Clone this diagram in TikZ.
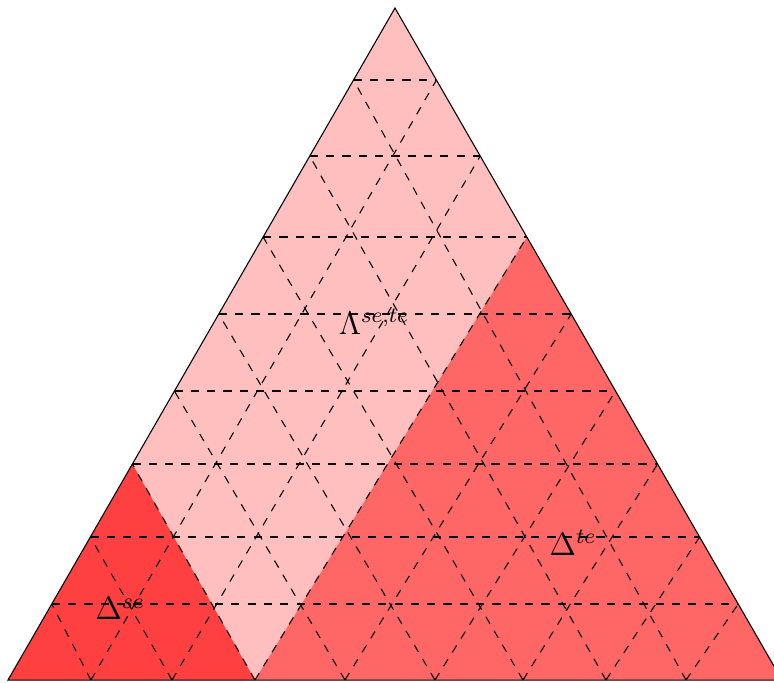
\documentclass[tikz,border=0pt]{standalone}
\begin{document}
\begin{tikzpicture}[every node/.style={font=\large},
  gridline/.style={dashed},
  lamfill/.style={fill=red!25},
  sefill/.style={fill=red!75},
  tefill/.style={fill=red!60}]
\useasboundingbox (-0.103,-0.026) rectangle (9.897,8.786);
\coordinate (A) at (0,0);
\coordinate (B) at (10,0);
\coordinate (C) at (5,8.682);
% level k: height on the sides, foot on the base
\foreach \k/\h/\b in {1/0.982/1.072, 2/1.848/2.119, 3/2.791/3.191, 4/3.734/4.354,
    5/4.729/5.517, 6/5.724/6.654, 7/6.770/7.726, 8/7.752/8.760} {
  \coordinate (L\k) at ({0.5759*\h},\h);
  \coordinate (R\k) at ({10-0.5759*\h},\h);
  \coordinate (B\k) at (\b,0);
}
\fill[lamfill] (A) -- (B) -- (C) -- cycle;
\fill[sefill] (A) -- (B3) -- (L3) -- cycle;
\fill[tefill] (B3) -- (B) -- (R6) -- cycle;
\foreach \k in {1,...,8} {
  \pgfmathtruncatemacro\j{9-\k}
  \draw[gridline] (L\k) -- (R\k);
  \draw[gridline] (B\k) -- (L\k);
  \draw[gridline] (B\k) -- (R\j);
}
\draw (A) -- (B) -- (C) -- cycle;
\node (lam) at (4.73,4.63) {$\Lambda^{se,te}$};
\node (dse) at (1.45,0.92) {$\Delta^{se}$};
\node (dte) at (7.30,1.77) {$\Delta^{te}$};
\end{tikzpicture}
\end{document}
